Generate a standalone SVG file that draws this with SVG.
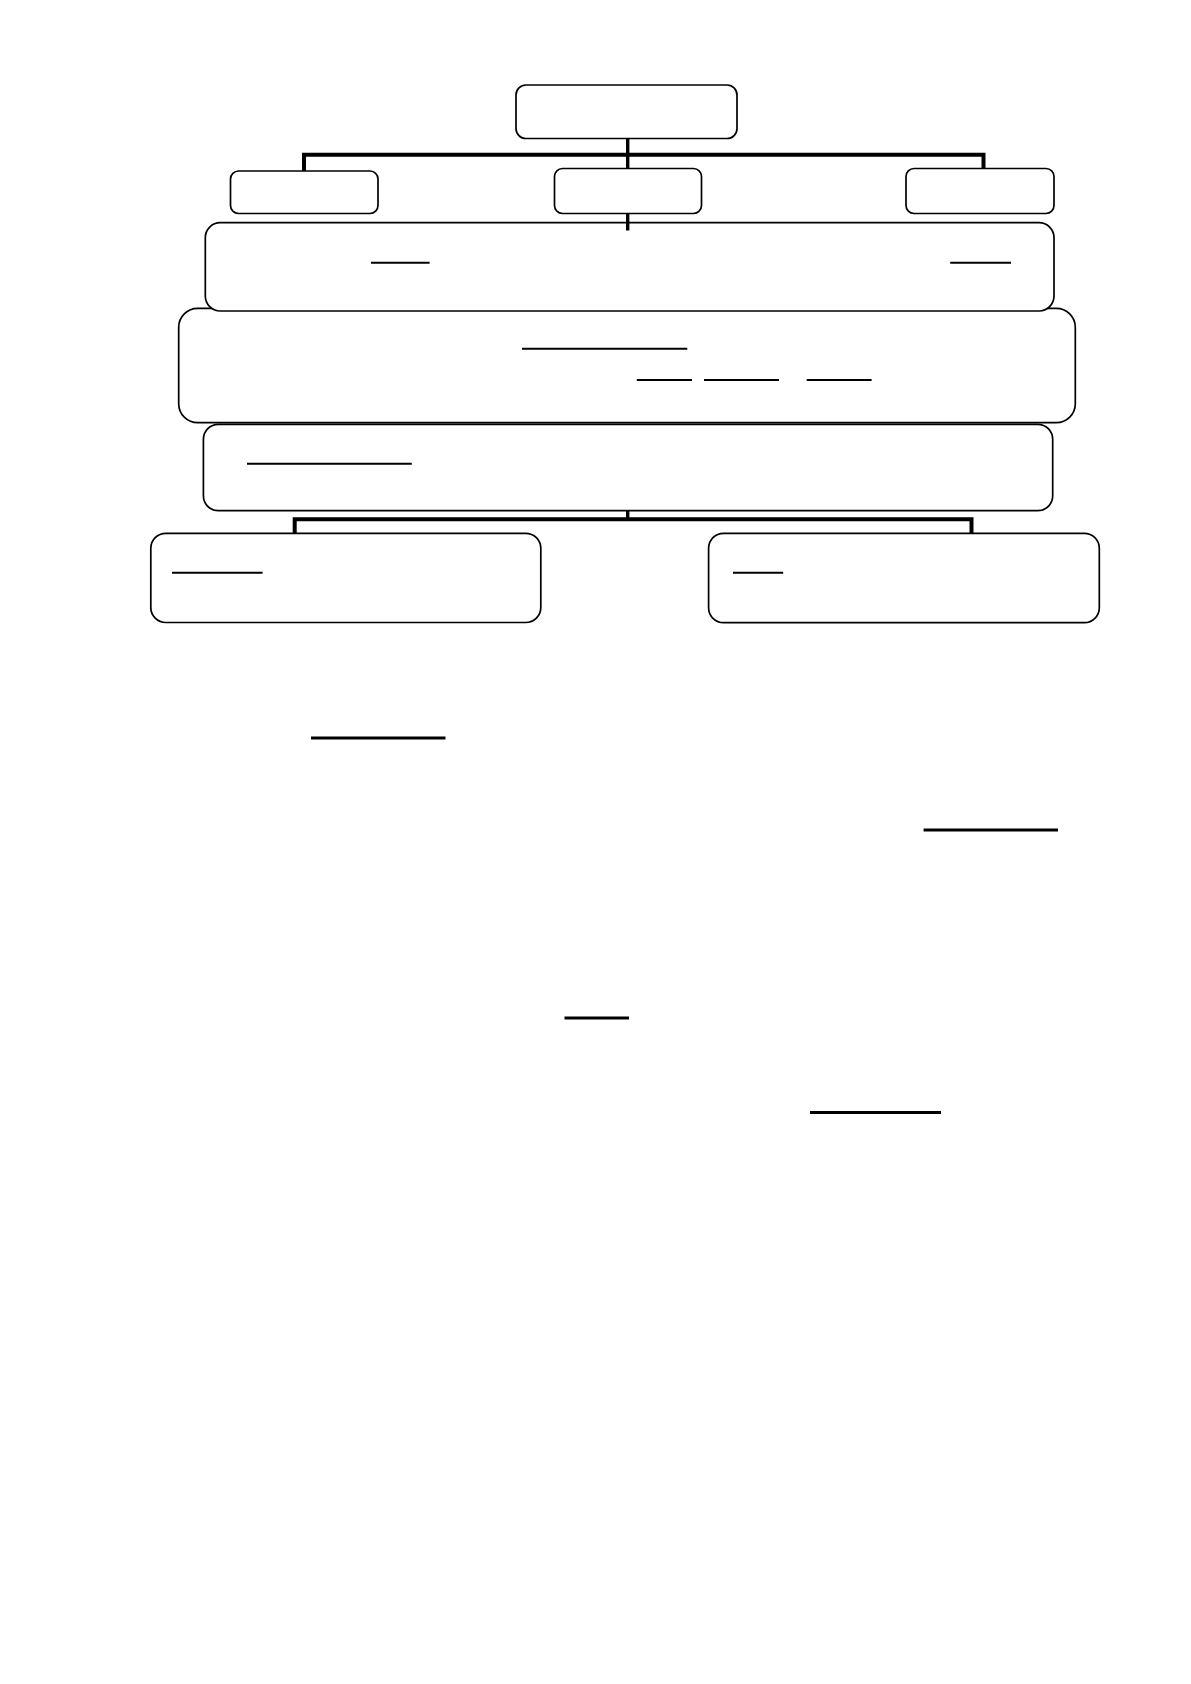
<svg xmlns="http://www.w3.org/2000/svg" width="1191" height="1684" viewBox="0 0 1191 1684">
<style>
.box{fill:#fff;stroke:#000;stroke-width:1.7}
.ul{stroke:#000;stroke-width:2}
.ul3{stroke:#000;stroke-width:3}
.con{fill:none;stroke:#000;stroke-width:4;stroke-linejoin:miter;stroke-linecap:butt}
.con3{fill:none;stroke:#000;stroke-width:3.4;stroke-linecap:butt}
</style>
<rect width="1191" height="1684" fill="#fff"/>
<g id="top"><rect class="box" x="516" y="85" width="221" height="53.5" rx="10"/></g>
<g id="left-small"><rect class="box" x="230.5" y="171" width="147.5" height="42.5" rx="8"/></g>
<g id="center-small"><rect class="box" x="554.5" y="168.5" width="147" height="45" rx="8"/></g>
<g id="right-small"><rect class="box" x="906" y="168.5" width="148" height="45" rx="8"/></g>
<g id="box2"><rect class="box" x="178.7" y="308.3" width="896.6" height="114.4" rx="19"/>
<line class="ul" x1="522" y1="348.7" x2="687.3" y2="348.7"/>
<line class="ul" x1="636.8" y1="380" x2="692" y2="380"/>
<line class="ul" x1="704" y1="380" x2="779" y2="380"/>
<line class="ul" x1="806.7" y1="380" x2="871.6" y2="380"/>
</g>
<g id="box1"><rect class="box" x="205.3" y="222.7" width="848.7" height="88.3" rx="15"/>
<line class="ul" x1="371" y1="262.8" x2="429.6" y2="262.8"/>
<line class="ul" x1="950.2" y1="262.8" x2="1011" y2="262.8"/>
</g>
<g id="box3"><rect class="box" x="203.4" y="424.3" width="849.3" height="86.4" rx="15"/>
<line class="ul" x1="247" y1="463.8" x2="411.8" y2="463.8"/>
</g>
<g id="bottom-left"><rect class="box" x="150.8" y="533.3" width="390" height="89.2" rx="15"/>
<line class="ul" x1="172" y1="572.7" x2="262.6" y2="572.7"/>
</g>
<g id="bottom-right"><rect class="box" x="708.6" y="533.3" width="390.7" height="89.4" rx="15"/>
<line class="ul" x1="733" y1="572.7" x2="783.2" y2="572.7"/>
</g>
<g id="blanks">
<line class="ul3" x1="311" y1="738" x2="445.5" y2="738"/>
<line class="ul3" x1="923.6" y1="830" x2="1058" y2="830"/>
<line class="ul3" x1="564.5" y1="1018" x2="629" y2="1018"/>
<line class="ul3" x1="810" y1="1112.5" x2="941" y2="1112.5"/>
</g>
<g id="connectors">
<path class="con3" d="M627.7 138.5 V168.5"/>
<path class="con" d="M304 171 V154.7 H983.5 V168.5"/>
<path class="con3" d="M627.7 213.5 V230.5"/>
<path class="con3" d="M627.7 510.7 V519.3"/>
<path class="con" d="M294.7 533.3 V519.3 H971.5 V533.3"/>
</g>
</svg>
